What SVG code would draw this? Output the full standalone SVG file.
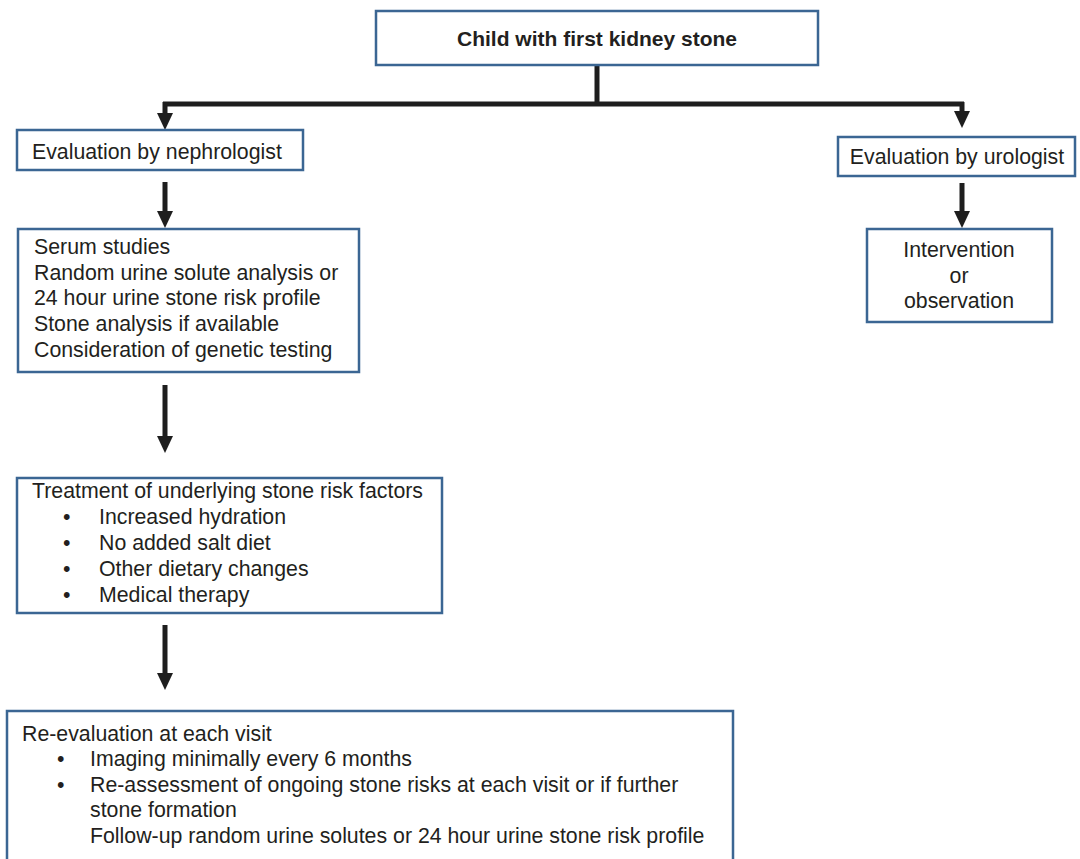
<svg xmlns="http://www.w3.org/2000/svg" width="1080" height="859" viewBox="0 0 1080 859">
<style>
.box{fill:#fff;stroke:#3b6693;stroke-width:2.5}
.t{font-family:"Liberation Sans",Arial,sans-serif;font-size:21.3px;fill:#231f20}
.b{font-weight:bold;font-size:21px}
.c{text-anchor:middle}
.ln{stroke:#1e1e1e;stroke-width:5;fill:none}
.hd{fill:#1e1e1e}
</style>
<rect width="1080" height="859" fill="#fff"/>
<g id="connectors">
<path class="ln" d="M597,65 V104 M163,104 H964 M165,102 V116 M962,102 V114"/>
<polygon class="hd" points="157,113 173,113 165,130"/>
<polygon class="hd" points="954,111 970,111 962,128"/>
<path class="ln" d="M165,182 V214 M962,183 V214 M165,385 V438 M165,625 V676"/>
<polygon class="hd" points="157,211 173,211 165,228"/>
<polygon class="hd" points="954,211 970,211 962,228"/>
<polygon class="hd" points="157,436 173,436 165,453"/>
<polygon class="hd" points="157,673 173,673 165,690"/>
</g>
<g id="start">
<rect class="box" x="376" y="11" width="442" height="54"/>
<text class="t b c" x="597" y="46">Child with first kidney stone</text>
</g>
<g id="nephrologist">
<rect class="box" x="17" y="130" width="286" height="40"/>
<text class="t" x="32" y="159">Evaluation by nephrologist</text>
</g>
<g id="urologist">
<rect class="box" x="838" y="137" width="237" height="39"/>
<text class="t c" x="957" y="164">Evaluation by urologist</text>
</g>
<g id="intervention">
<rect class="box" x="867" y="229" width="185" height="93"/>
<text class="t c" x="959" y="257">Intervention</text>
<text class="t c" x="959" y="283">or</text>
<text class="t c" x="959" y="308">observation</text>
</g>
<g id="studies">
<rect class="box" x="18" y="229" width="341" height="143"/>
<text class="t" x="34" y="254">Serum studies</text>
<text class="t" x="34" y="280">Random urine solute analysis or</text>
<text class="t" x="34" y="305">24 hour urine stone risk profile</text>
<text class="t" x="34" y="331">Stone analysis if available</text>
<text class="t" x="34" y="357">Consideration of genetic testing</text>
</g>
<g id="treatment">
<rect class="box" x="17" y="478" width="425" height="135"/>
<text class="t" x="32" y="498">Treatment of underlying stone risk factors</text>
<text class="t" x="63" y="524">•</text><text class="t" x="99" y="524">Increased hydration</text>
<text class="t" x="63" y="550">•</text><text class="t" x="99" y="550">No added salt diet</text>
<text class="t" x="63" y="576">•</text><text class="t" x="99" y="576">Other dietary changes</text>
<text class="t" x="63" y="602">•</text><text class="t" x="99" y="602">Medical therapy</text>
</g>
<g id="reevaluation">
<rect class="box" x="7" y="711" width="726" height="160"/>
<text class="t" x="22" y="741">Re-evaluation at each visit</text>
<text class="t" x="57" y="766">•</text><text class="t" x="90" y="766">Imaging minimally every 6 months</text>
<text class="t" x="57" y="792">•</text><text class="t" x="90" y="792">Re-assessment of ongoing stone risks at each visit or if further</text>
<text class="t" x="90" y="817">stone formation</text>
<text class="t" x="90" y="843">Follow-up random urine solutes or 24 hour urine stone risk profile</text>
</g>
</svg>
